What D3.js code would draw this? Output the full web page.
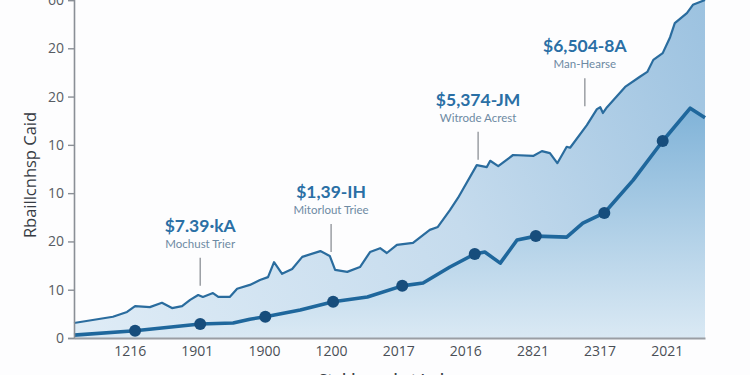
<!DOCTYPE html>
<html>
<head>
<meta charset="utf-8">
<script src="https://cdn.jsdelivr.net/npm/d3@7"></script>
<style>
  body { margin: 0; background: #fdfdfe; }
  svg { display: block; }
</style>
</head>
<body>
<script>
// Chart data
const upperX = [0, 5.8, 7.9, 9.1, 11.3, 13.1, 14.6, 16.1, 17.3, 18.5, 19.2, 20.7, 21.5, 23.2, 24.3,
  26.2, 27.7, 28.9, 29.8, 31.0, 32.5, 34.0, 36.7, 38.1, 38.9, 40.7, 42.6, 44.1, 45.6, 46.6, 48.1,
  50.5, 53.0, 54.2, 56.0, 57.2, 60.0, 61.5, 62.0, 63.2, 65.4, 68.4, 69.7, 70.9, 72.0, 73.4, 73.9,
  76.4, 77.9, 78.4, 78.8, 79.4, 82.1, 84.3, 85.4, 86.3, 87.7, 88.8, 89.5, 91.3, 92.2, 94];
const upperY = [3.1, 4.4, 5.4, 6.6, 6.4, 7.3, 6.2, 6.6, 7.9, 8.9, 8.5, 9.3, 8.5, 8.5, 10.2,
  11.0, 12.0, 12.6, 15.7, 13.3, 14.3, 16.8, 18.0, 17.0, 14.1, 13.7, 14.7, 17.8, 18.6, 17.6, 19.3,
  19.7, 22.4, 23.0, 26.5, 29.0, 35.8, 35.4, 36.7, 35.6, 37.9, 37.7, 38.7, 38.3, 36.2, 39.6, 39.4,
  44.1, 47.4, 47.8, 46.6, 47.8, 52.0, 54.1, 55.1, 57.6, 59.0, 62.3, 65.2, 67.3, 69.0, 70];

const lowerX = [0, 9.1, 18.8, 23.7, 26.2, 28.5, 33.7, 38.6, 43.7, 48.9, 52.0, 56.0, 59.7, 61.2,
  63.5, 66.0, 68.8, 73.4, 75.8, 79.0, 83.3, 87.7, 91.8, 94];
const lowerY = [0.6, 1.5, 2.9, 3.1, 3.9, 4.4, 5.8, 7.5, 8.5, 10.8, 11.4, 14.7, 17.4, 17.8,
  15.5, 20.3, 21.1, 20.9, 23.8, 25.9, 32.7, 40.8, 47.6, 45.6];
const lowerDots = [0, 1, 1, 0, 0, 1, 0, 1, 0, 1, 0, 0, 1, 0, 0, 0, 1, 0, 0, 1, 0, 1, 0, 0];

const xTickValues = [8.3, 18.3, 28.3, 38.3, 48.3, 58.3, 68.3, 78.3, 88.3];
const xTickLabels = ['1216', '1901', '1900', '1200', '2017', '2016', '2821', '2317', '2021'];
const yTickValues = [0, 10, 20, 30, 40, 50, 60, 70];
const yTickLabels = ['0', '10', '20', '10', '10', '20', '20', '60'];

const annTitles = ['$7.39·kA', '$1,39-IH', '$5,374-JM', '$6,504-8A'];
const annSubs = ['Mochust Trier', 'Mitorlout Triee', 'Witrode Acrest', 'Man-Hearse'];
const annX = [18.8, 38.3, 60.2, 76.1];
const annY = [10.4, 17.4, 36.5, 47.6];

const upper = upperX.map((x, i) => ({ x, y: upperY[i] }));
const lower = lowerX.map((x, i) => ({ x, y: lowerY[i], dot: lowerDots[i] }));

const width = 750, height = 375;
const margin = { top: 0, right: 45, bottom: 37, left: 74 };
const innerW = width - margin.left - margin.right;
const innerH = height - margin.top - margin.bottom;

const svg = d3.select('body').append('svg')
  .attr('width', width)
  .attr('height', height);

const defs = svg.append('defs');
const g1 = defs.append('linearGradient').attr('id', 'gUpper')
  .attr('gradientUnits', 'userSpaceOnUse')
  .attr('x1', 0).attr('y1', innerH).attr('x2', innerW).attr('y2', 0);
g1.append('stop').attr('offset', '0%').attr('stop-color', '#dfecf6');
g1.append('stop').attr('offset', '55%').attr('stop-color', '#c5dbed');
g1.append('stop').attr('offset', '100%').attr('stop-color', '#9cc2e0');

const g2 = defs.append('linearGradient').attr('id', 'gLower')
  .attr('gradientUnits', 'userSpaceOnUse')
  .attr('x1', 0).attr('y1', 100).attr('x2', 0).attr('y2', innerH);
g2.append('stop').attr('offset', '0%').attr('stop-color', '#7db1d7');
g2.append('stop').attr('offset', '100%').attr('stop-color', '#dae9f4');

const chart = svg.append('g')
  .attr('transform', 'translate(' + margin.left + ',' + margin.top + ')');

const x = d3.scaleLinear().domain([0, 94]).range([0, innerW]);
const y = d3.scaleLinear().domain([0, 70]).range([innerH, 0]);

const areaGen = d3.area().x(d => x(d.x)).y0(innerH).y1(d => y(d.y));
const lineGen = d3.line().x(d => x(d.x)).y(d => y(d.y));

// upper series
chart.append('path').datum(upper)
  .attr('d', areaGen)
  .attr('fill', 'url(#gUpper)');
chart.append('path').datum(upper)
  .attr('d', lineGen)
  .attr('fill', 'none')
  .attr('stroke', '#2a6c9e')
  .attr('stroke-width', 2.2)
  .attr('stroke-linejoin', 'round');

// lower series
chart.append('path').datum(lower)
  .attr('d', areaGen)
  .attr('fill', 'url(#gLower)');
chart.append('path').datum(lower)
  .attr('d', lineGen)
  .attr('fill', 'none')
  .attr('stroke', '#1f679c')
  .attr('stroke-width', 3.6)
  .attr('stroke-linejoin', 'round');
chart.selectAll('.dot')
  .data(lower.filter(d => d.dot))
  .enter().append('circle')
  .attr('class', 'dot')
  .attr('cx', d => x(d.x))
  .attr('cy', d => y(d.y))
  .attr('r', 6)
  .attr('fill', '#174d7c');

// axes
const yAxis = chart.append('g')
  .call(d3.axisLeft(y).tickValues(yTickValues).tickSize(6).tickPadding(4)
    .tickFormat((d, i) => yTickLabels[i]));
yAxis.select('.domain').attr('stroke', '#8a8f96').attr('stroke-width', 1.6);
yAxis.selectAll('.tick line').attr('stroke', '#8a8f96').attr('stroke-width', 1.4);
yAxis.selectAll('.tick text')
  .attr('fill', '#575c63')
  .style('font-family', '"Open Sans", sans-serif')
  .style('font-size', '14px');

const xAxis = chart.append('g')
  .attr('transform', 'translate(0,' + innerH + ')')
  .call(d3.axisBottom(x).tickValues(xTickValues).tickSize(0).tickPadding(8)
    .tickFormat((d, i) => xTickLabels[i]));
xAxis.select('.domain').attr('stroke', '#9a9ea4').attr('stroke-width', 2);
xAxis.selectAll('.tick text')
  .attr('fill', '#4a4f56')
  .style('font-family', '"Open Sans", sans-serif')
  .style('font-size', '14px');

// annotations
annTitles.forEach((t, i) => {
  const ax = x(annX[i]);
  const tipY = y(annY[i]) - 2;
  chart.append('line')
    .attr('x1', ax).attr('x2', ax)
    .attr('y1', tipY - 28).attr('y2', tipY)
    .attr('stroke', '#8c9096').attr('stroke-width', 1.3);
  chart.append('text')
    .attr('x', ax).attr('y', tipY - 54)
    .attr('text-anchor', 'middle')
    .attr('fill', '#2a6fa5')
    .style('font-family', 'Lato, sans-serif')
    .style('font-weight', 'bold')
    .style('font-size', '17.5px')
    .text(t);
  chart.append('text')
    .attr('x', ax).attr('y', tipY - 38)
    .attr('text-anchor', 'middle')
    .attr('fill', '#6d8aa3')
    .style('font-family', 'Lato, sans-serif')
    .style('font-size', '11.5px')
    .text(annSubs[i]);
});

// axis titles
svg.append('text')
  .attr('transform', 'translate(36,175) rotate(-90)')
  .attr('text-anchor', 'middle')
  .attr('fill', '#363b43')
  .style('font-family', '"Open Sans", sans-serif')
  .style('font-weight', '500')
  .style('font-size', '16.5px')
  .text('Rbaillcnhsp Caid');

svg.append('text')
  .attr('x', 390).attr('y', 384)
  .attr('text-anchor', 'middle')
  .attr('fill', '#3a3f47')
  .style('font-family', '"Open Sans", sans-serif')
  .style('font-weight', '600')
  .style('font-size', '15px')
  .text('Stablemarket Index');
</script>
</body>
</html>
